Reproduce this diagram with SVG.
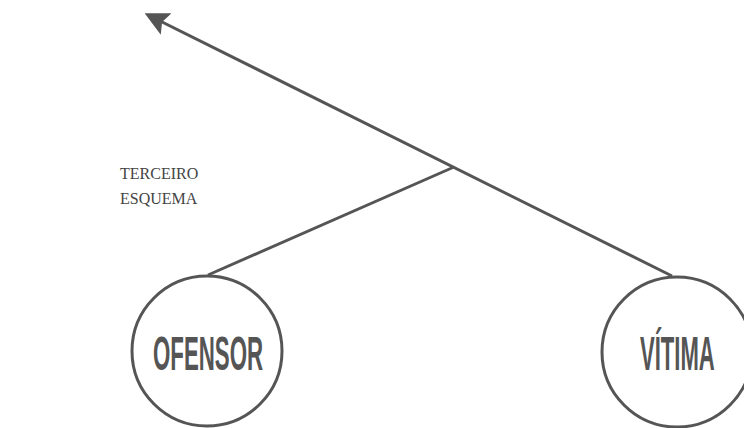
<svg xmlns="http://www.w3.org/2000/svg" width="744" height="428" viewBox="0 0 744 428">
<style>
.c{fill:none;stroke:#555;stroke-width:3}
.l{stroke:#555;stroke-width:3;fill:none}
.t{font-family:"Liberation Sans",Arial,sans-serif;font-weight:bold;font-size:48px;fill:#555}
.s{font-family:"Liberation Serif","Times New Roman",serif;font-size:16px;fill:#444}
</style>
<defs>
<marker id="ah" markerWidth="8" markerHeight="8" refX="6" refY="4" orient="auto" markerUnits="strokeWidth">
<path d="M0,0 L8,4 L0,8 L1.5,4 z" fill="#555"/>
</marker>
</defs>
<g id="connectors">
<line class="l" x1="672" y1="276" x2="150" y2="16" marker-end="url(#ah)"/>
<line class="l" x1="208" y1="275" x2="454" y2="167"/>
</g>
<g id="ofensor">
<circle class="c" cx="207" cy="351" r="75"/>
<text class="t" transform="translate(153,370) scale(0.464,1)">OFENSOR</text>
</g>
<g id="vitima">
<circle class="c" cx="677" cy="352" r="75"/>
<text class="t" transform="translate(640,370) scale(0.46,1)">VÍTIMA</text>
</g>
<g id="label">
<text class="s" x="120" y="179">TERCEIRO</text>
<text class="s" x="120" y="204">ESQUEMA</text>
</g>
</svg>
